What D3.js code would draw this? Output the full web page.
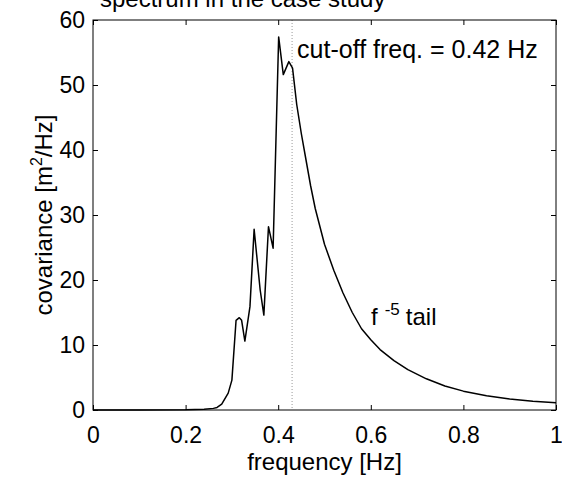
<!DOCTYPE html>
<html>
<head>
<meta charset="utf-8">
<script src="https://cdn.jsdelivr.net/npm/d3@7"></script>
<style>
  body { margin: 0; background: #fff; }
  svg text { font-family: "Liberation Sans", Arial, sans-serif; fill: #000; }
</style>
</head>
<body>
<svg id="chart"></svg>
<script>
// values
const freq = [0, 0.1, 0.2, 0.24, 0.26, 0.268, 0.278, 0.292, 0.3, 0.309, 0.316, 0.321, 0.328, 0.339,
  0.348, 0.361, 0.369, 0.379, 0.389, 0.401, 0.411, 0.423, 0.431, 0.44, 0.45, 0.46, 0.47, 0.48,
  0.5, 0.52, 0.54, 0.56, 0.58, 0.6, 0.62, 0.65, 0.68, 0.72, 0.76, 0.8, 0.85, 0.9, 0.95, 1];
const covariance = [0, 0, 0.02, 0.1, 0.25, 0.4, 0.9, 2.6, 4.6, 13.8, 14.2, 13.8, 10.6, 15.9,
  27.8, 18.5, 14.6, 28.2, 24.9, 57.4, 51.6, 53.6, 52.6, 47, 42.5, 38.5, 34.5, 31,
  25.5, 21.5, 18, 15, 12.5, 10.8, 9.3, 7.6, 6.2, 4.8, 3.7, 2.9, 2.2, 1.7, 1.35, 1.1];
const cutoffFreq = 0.43;
const xTicks = [0, 0.2, 0.4, 0.6, 0.8, 1];
const yTicks = [0, 10, 20, 30, 40, 50, 60];

const width = 562, height = 477;
const margin = { top: 20, right: 6, bottom: 67, left: 93 };

const svg = d3.select('#chart').attr('width', width).attr('height', height);

const x = d3.scaleLinear().domain([0, 1]).range([margin.left, width - margin.right]);
const y = d3.scaleLinear().domain([0, 60]).range([height - margin.bottom, margin.top]);

// title, cut off at the top of the page like in the scan
svg.append('text')
  .attr('x', 100)
  .attr('y', 7)
  .style('font-size', '24px')
  .text('spectrum in the case study');

// cut-off frequency marker
svg.append('line')
  .attr('x1', x(cutoffFreq)).attr('x2', x(cutoffFreq))
  .attr('y1', y(60)).attr('y2', y(0))
  .attr('stroke', '#999')
  .attr('stroke-width', 1)
  .attr('stroke-dasharray', '1,2');

// spectrum curve
const line = d3.line().x((d, i) => x(freq[i])).y(d => y(d));
svg.append('path')
  .datum(covariance)
  .attr('d', line)
  .attr('fill', 'none')
  .attr('stroke', '#000')
  .attr('stroke-width', 1.5)
  .attr('stroke-linejoin', 'round');

// axes, ticks pointing into the box like matlab
const fmt = d3.format('~g');
svg.append('g')
  .attr('transform', `translate(0,${y(0)})`)
  .call(d3.axisBottom(x).tickValues(xTicks).tickFormat(fmt).tickSizeInner(-5).tickSizeOuter(0).tickPadding(17))
  .call(g => g.select('.domain').remove());
svg.append('g')
  .attr('transform', `translate(0,${y(60)})`)
  .call(d3.axisTop(x).tickValues(xTicks).tickFormat('').tickSizeInner(-5).tickSizeOuter(0))
  .call(g => g.select('.domain').remove());
svg.append('g')
  .attr('transform', `translate(${x(0)},0)`)
  .call(d3.axisLeft(y).tickValues(yTicks).tickSizeInner(-5).tickSizeOuter(0).tickPadding(8))
  .call(g => g.select('.domain').remove());
svg.append('g')
  .attr('transform', `translate(${x(1)},0)`)
  .call(d3.axisRight(y).tickValues(yTicks).tickFormat('').tickSizeInner(-5).tickSizeOuter(0))
  .call(g => g.select('.domain').remove());

svg.selectAll('.tick text')
  .style('font-size', '23px')
  .style('font-family', '"Liberation Sans", Arial, sans-serif');
svg.selectAll('.tick line').attr('stroke', '#000');

// box
svg.append('rect')
  .attr('x', x(0)).attr('y', y(60))
  .attr('width', x(1) - x(0)).attr('height', y(0) - y(60))
  .attr('fill', 'none')
  .attr('stroke', '#000')
  .attr('stroke-width', 1);

// axis labels
svg.append('text')
  .attr('text-anchor', 'middle')
  .attr('x', (x(0) + x(1)) / 2)
  .attr('y', 470)
  .style('font-size', '24px')
  .text('frequency [Hz]');

const ylab = svg.append('text')
  .attr('text-anchor', 'middle')
  .attr('transform', `translate(52,${(y(0) + y(60)) / 2}) rotate(-90)`)
  .style('font-size', '24px');
ylab.append('tspan').text('covariance [m');
ylab.append('tspan').attr('dy', -10).style('font-size', '16px').text('2');
ylab.append('tspan').attr('dy', 10).text('/Hz]');

// annotations
svg.append('text')
  .attr('x', x(cutoffFreq) + 5)
  .attr('y', 58)
  .style('font-size', '25px')
  .text('cut-off freq. = 0.42 Hz');

const tail = svg.append('text')
  .attr('x', 371)
  .attr('y', 325)
  .style('font-size', '24px');
tail.append('tspan').text('f');
tail.append('tspan').attr('dx', 7).attr('dy', -10).style('font-size', '17px').text('-5');
tail.append('tspan').attr('dx', 6).attr('dy', 10).text('tail');
</script>
</body>
</html>
